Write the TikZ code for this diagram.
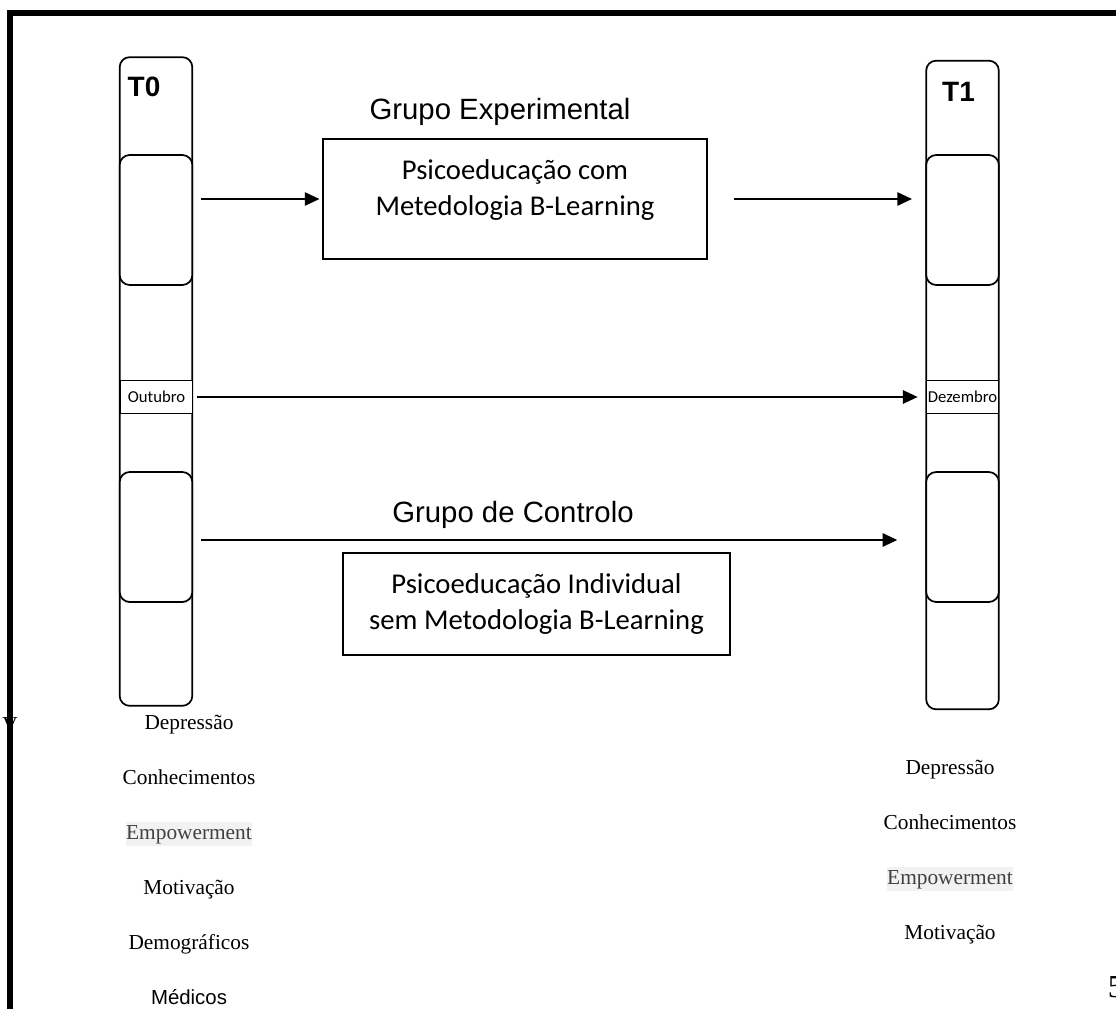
\documentclass[tikz,border=0pt]{standalone}
\usepackage{fontspec}
\setmainfont{Liberation Serif}
\newfontfamily\arialfont{Liberation Sans}
\newfontfamily\calfont{Carlito}
\usetikzlibrary{positioning,arrows.meta}

\begin{document}
\begin{tikzpicture}[x=0.75pt, y=-0.75pt, node distance=21.45pt, line width=1.3pt,
	timebar/.style={rectangle,draw=black,rounded corners=7.5pt,minimum width=54.5pt,minimum height=486.5pt},
	slotbox/.style={rectangle,draw=black,fill=white,rounded corners=7.5pt,minimum width=54.5pt,minimum height=97.5pt},
	monthbox/.style={rectangle,draw=black,fill=white,minimum width=54pt,minimum height=24.75pt,inner sep=0pt,font=\calfont\fontsize{12.5}{14}\selectfont},
	treatbox/.style={rectangle,draw=black,align=center,font=\calfont\fontsize{21.5}{27.5}\selectfont},
	grouplabel/.style={inner sep=0pt,font=\arialfont\fontsize{22}{26}\selectfont},
	tlabel/.style={inner sep=0pt,anchor=north west,font=\arialfont\bfseries\fontsize{21}{25}\selectfont},
	varlabel/.style={inner sep=0.5pt,text height=13pt,text depth=4.5pt,font=\fontsize{16}{19}\selectfont},
	empw/.style={fill=black!5,text=black!75},
	flow/.style={-{Triangle[length=11pt,width=10pt]}}]
	\useasboundingbox[fill=white] (0,0) rectangle (1116,1009);
	% time points
	\node[timebar] (t0) at (156,381.5) {};
	\node[timebar] (t1) at (962.5,385) {};
	\node[slotbox] (t0a) at (156,220) {};
	\node[slotbox] (t0b) at (156,537) {};
	\node[slotbox] (t1a) at (962.5,220) {};
	\node[slotbox] (t1b) at (962.5,537) {};
	\node[monthbox] (oct) at (156.5,397) {Outubro};
	\node[monthbox] (dec) at (962.5,397) {Dezembro};
	\node[tlabel] (t0lab) at ([xshift=6pt,yshift=-15pt]t0.north west) {T0};
	\node[tlabel] (t1lab) at ([xshift=12pt,yshift=-16.5pt]t1.north west) {T1};
	% groups
	\node[treatbox,minimum width=288pt,minimum height=90pt,
		label={[align=center,font=\calfont\fontsize{21.5}{27.5}\selectfont,yshift=6.75pt]center:{Psicoeducação com\\Metedologia B-Learning}}] (exp) at (515,199) {};
	\node[grouplabel] (explab) at (500,112) {Grupo Experimental};
	\node[treatbox,minimum width=290pt,minimum height=76.5pt] (ctrl) at (536.5,604) {Psicoeducação Individual\\sem Metodologia B-Learning};
	\node[grouplabel] (ctrllab) at (513,515) {Grupo de Controlo};
	\path[flow,shorten <=6pt,shorten >=2pt] (t0a.east |- exp.west) edge (exp.west);
	\path[flow,shorten <=19.5pt,shorten >=10pt] (exp.east) edge (exp.east -| t1a.west);
	\path[flow,shorten <=3pt,shorten >=6pt] (oct) edge (dec);
	\path[flow,shorten <=6pt,shorten >=21pt] ([yshift=-2.25pt]t0b.east) edge ([yshift=-2.25pt]t1b.west);
	% measures
	\node[varlabel] (dep0) at (189,724) {Depressão};
	\node[varlabel] (con0) [below=of dep0] {Conhecimentos};
	\node[varlabel,empw] (emp0) [below=of con0] {Empowerment};
	\node[varlabel] (mot0) [below=of emp0] {Motivação};
	\node[varlabel] (dem0) [below=of mot0] {Demográficos};
	\node[varlabel,font=\arialfont\fontsize{15.3}{18}\selectfont] (med0) [below=of dem0] {Médicos};
	\node[varlabel] (dep1) at (950,769) {Depressão};
	\node[varlabel] (con1) [below=of dep1] {Conhecimentos};
	\node[varlabel,empw] (emp1) [below=of con1] {Empowerment};
	\node[varlabel] (mot1) [below=of emp1] {Motivação};
	\node[font=\fontsize{16}{19}\selectfont] (vmark) at (10,725) {V};
	\node[anchor=west,inner sep=0pt,font=\fontsize{24}{26}\selectfont] (pnum) at (1107,987) {5};
	% page frame
	\draw[line width=4.5pt] (10,1030) -- (10,13.5) -- (1140,13.5);
\end{tikzpicture}
\end{document}
